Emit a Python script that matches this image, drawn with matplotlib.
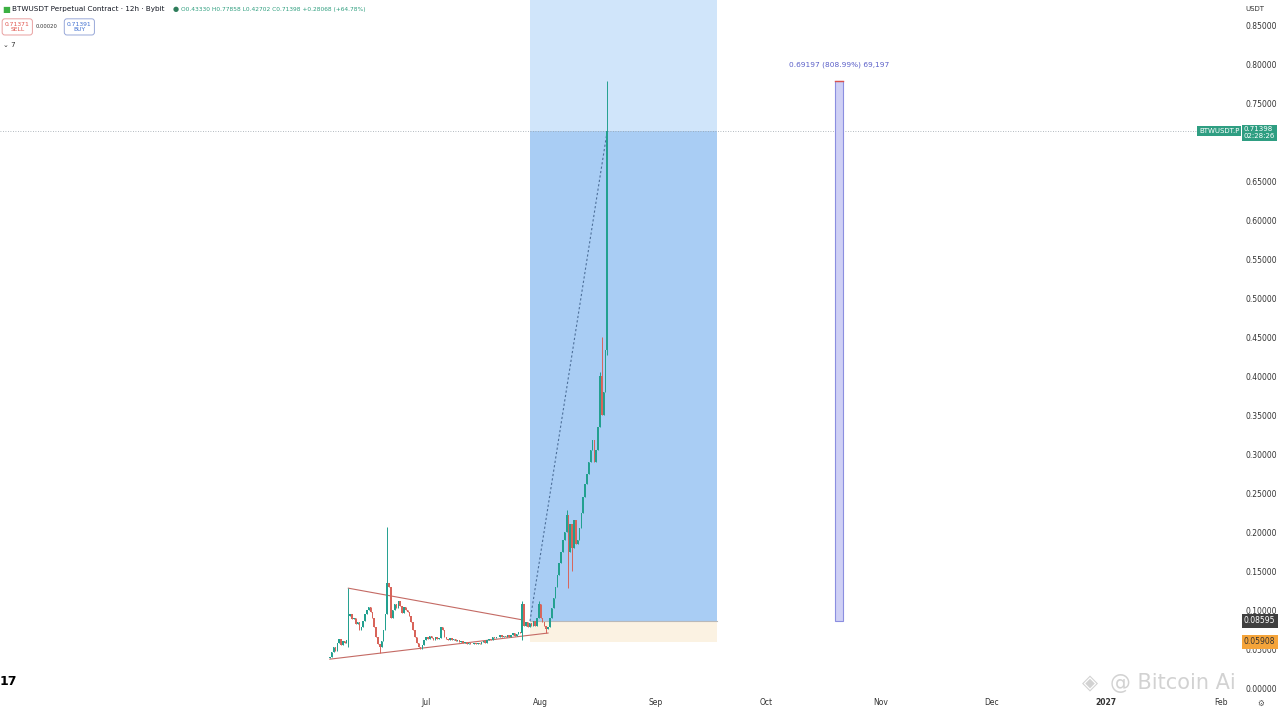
import datetime as dt
import numpy as np
import matplotlib
matplotlib.use("Agg")
import matplotlib.pyplot as plt
import matplotlib.dates as mdates
import matplotlib.transforms as mtransforms
from matplotlib.patches import Rectangle

# 12h candles of BTWUSDT starting 2026-06-05
start = dt.datetime(2026, 6, 5)
closes = [
    0.040, 0.046, 0.052, 0.048, 0.058, 0.063, 0.055, 0.060, 0.058, 0.062,
    0.092, 0.095, 0.088, 0.090, 0.082, 0.085, 0.074, 0.078, 0.086, 0.095,
    0.100, 0.104, 0.098, 0.090, 0.078, 0.065, 0.056, 0.052, 0.060, 0.075,
    0.095, 0.135, 0.130, 0.090, 0.100, 0.108, 0.102, 0.112, 0.105, 0.096,
    0.104, 0.100, 0.098, 0.092, 0.085, 0.075, 0.066, 0.058, 0.053, 0.050,
    0.055, 0.062, 0.066, 0.063, 0.067, 0.064, 0.062, 0.065, 0.063, 0.064,
    0.078, 0.074, 0.066, 0.063, 0.061, 0.064, 0.062, 0.063, 0.060, 0.061,
    0.059, 0.060, 0.058, 0.059, 0.057, 0.058, 0.056, 0.057, 0.058, 0.056,
    0.058, 0.057, 0.059, 0.060, 0.058, 0.061, 0.063, 0.062, 0.065, 0.064,
    0.066, 0.065, 0.068, 0.066, 0.067, 0.065, 0.068, 0.066, 0.068, 0.070,
    0.067, 0.069, 0.072, 0.070, 0.108, 0.080, 0.085, 0.078, 0.083, 0.080,
    0.086, 0.080, 0.090, 0.108, 0.090, 0.085, 0.080, 0.076, 0.078, 0.090,
    0.102, 0.115, 0.130, 0.145, 0.160, 0.175, 0.190, 0.200, 0.222, 0.175,
    0.210, 0.180, 0.215, 0.185, 0.190, 0.205, 0.225, 0.245, 0.262, 0.275,
    0.290, 0.305, 0.318, 0.290, 0.305, 0.335, 0.400, 0.350, 0.380, 0.4333,
    0.71398,
]
first_open = 0.038
high_wicks = {10: 0.128, 31: 0.207, 104: 0.112, 113: 0.112, 128: 0.228,
              146: 0.405, 147: 0.450, 150: 0.77858}
low_wicks = {10: 0.052, 27: 0.045, 104: 0.062, 117: 0.070, 129: 0.128,
             131: 0.150, 150: 0.42702}

# position tool / drawings
entry_price = 0.08595
stop_price = 0.05908
last_price = 0.71398
pos_start = dt.datetime(2026, 7, 29, 3)
pos_end = dt.datetime(2026, 9, 17, 16)
measure_start = dt.datetime(2026, 10, 19, 14)
measure_end = dt.datetime(2026, 10, 21, 18)
measure_top = 0.77792
upper_trend = [(dt.datetime(2026, 6, 10), 0.128), (dt.datetime(2026, 7, 27, 12), 0.087)]
lower_trend = [(dt.datetime(2026, 6, 5), 0.037), (dt.datetime(2026, 8, 3), 0.0705)]

price_ticks = [0.85, 0.80, 0.75, 0.65, 0.60, 0.55, 0.50, 0.45, 0.40, 0.35,
               0.30, 0.25, 0.20, 0.15, 0.10, 0.05, 0.00]
month_ticks = [dt.datetime(2026, 7, 1), dt.datetime(2026, 8, 1), dt.datetime(2026, 9, 1),
               dt.datetime(2026, 10, 1), dt.datetime(2026, 11, 1), dt.datetime(2026, 12, 1),
               dt.datetime(2027, 1, 1), dt.datetime(2027, 2, 1)]
month_labels = ["Jul", "Aug", "Sep", "Oct", "Nov", "Dec", "2027", "Feb"]

GREEN = "#22a08f"
RED = "#d8645a"

fig = plt.figure(figsize=(12.8, 7.08), dpi=100)
ax = fig.add_axes([0, 16 / 708, 1240 / 1280, 692 / 708])

jul1 = mdates.date2num(dt.datetime(2026, 7, 1))
px_day = 3.698
ax.set_xlim(jul1 - 426 / px_day, jul1 + (1240 - 426) / px_day)
ax.set_ylim(-0.0051, 0.8821)

# long position tool
x0 = mdates.date2num(pos_start)
x1 = mdates.date2num(pos_end)
ax.add_patch(Rectangle((x0, last_price), x1 - x0, 1.0 - last_price, color="#d0e5fa", lw=0, zorder=1))
ax.add_patch(Rectangle((x0, entry_price), x1 - x0, last_price - entry_price, color="#a9cdf4", lw=0, zorder=1))
ax.add_patch(Rectangle((x0, stop_price), x1 - x0, entry_price - stop_price, color="#fbf2e2", lw=0, zorder=1))
ax.plot([x0, x1], [entry_price, entry_price], color="#b9b9b9", lw=0.8, zorder=2)

# candles
times = [mdates.date2num(start + dt.timedelta(hours=12 * i)) for i in range(len(closes))]
opens = [first_open] + closes[:-1]
for i, (t, o, c) in enumerate(zip(times, opens, closes)):
    col = GREEN if c >= o else RED
    hi = high_wicks.get(i, max(o, c))
    lo = low_wicks.get(i, min(o, c))
    ax.vlines(t, lo, hi, color=col, lw=0.7, zorder=4)
    ax.bar(t, abs(c - o) if abs(c - o) > 0.0008 else 0.0008, bottom=min(o, c),
           width=0.4, color=col, lw=0, zorder=4)

# triangle
for pts in (upper_trend, lower_trend):
    ax.plot([mdates.date2num(p[0]) for p in pts], [p[1] for p in pts],
            color="#c46a64", lw=0.8, zorder=3)

# dashed line entry -> current price
ax.plot([x0, times[-1]], [entry_price, last_price], color="#4d6f99",
        lw=0.8, ls=(0, (2, 2)), zorder=3)

# current price line
ax.axhline(last_price, color="#9aa3ab", lw=0.6, ls=(0, (1, 2)), zorder=2)

# measure rectangle
m0 = mdates.date2num(measure_start)
m1 = mdates.date2num(measure_end)
ax.add_patch(Rectangle((m0, entry_price), m1 - m0, measure_top - entry_price,
                       facecolor="#cfd0f5", edgecolor="#8b8ee0", lw=0.8, zorder=3))
ax.plot([m0, m1], [measure_top, measure_top], color="#d9534f", lw=1.0, zorder=4)
ax.text((m0 + m1) / 2, 0.795, "0.69197 (808.99%) 69,197", color="#5a5fc8",
        fontsize=5.3, ha="center", va="bottom", zorder=5)

# axes styling
for s in ax.spines.values():
    s.set_visible(False)
ax.yaxis.tick_right()
ax.set_yticks(price_ticks)
ax.set_yticklabels(["%.5f" % v for v in price_ticks], fontsize=5.5, color="#333333")
ax.tick_params(axis="y", length=0, pad=4)
ax.set_xticks([mdates.date2num(d) for d in month_ticks])
ax.set_xticklabels(month_labels, fontsize=5.5, color="#333333")
ax.get_xticklabels()[6].set_fontweight("bold")
ax.tick_params(axis="x", length=0, pad=4)

# right-hand price labels
tr = mtransforms.blended_transform_factory(fig.transFigure, ax.transData)
ax.text(1199 / 1280, last_price, "BTWUSDT.P", transform=tr, fontsize=5, color="white",
        va="center", ha="left", zorder=6,
        bbox=dict(boxstyle="square,pad=0.25", fc="#2f9e82", ec="none"))
ax.text(1244 / 1280, last_price + 0.006, "0.71398\n02:28:26", transform=tr, fontsize=5,
        color="white", va="top", ha="left", zorder=6, linespacing=1.1,
        bbox=dict(boxstyle="square,pad=0.25", fc="#2f9e82", ec="none"),
        clip_on=False)
ax.text(1244 / 1280, entry_price, "0.08595", transform=tr, fontsize=5.5, color="white",
        va="center", ha="left", zorder=6, clip_on=False,
        bbox=dict(boxstyle="square,pad=0.3", fc="#3f3f3f", ec="none"))
ax.text(1244 / 1280, stop_price, "0.05908", transform=tr, fontsize=5.5, color="#333333",
        va="center", ha="left", zorder=6, clip_on=False,
        bbox=dict(boxstyle="square,pad=0.3", fc="#f5a43a", ec="none"))

# header
fig.text(0.002, 0.987, "\u25a0", color="#3cb043", fontsize=6, va="center")
fig.text(0.009, 0.987, "BTWUSDT Perpetual Contract \u00b7 12h \u00b7 Bybit", color="#131722",
         fontsize=5.2, va="center")
fig.text(0.1345, 0.987, "\u25cf", color="#2e7d5b", fontsize=5, va="center")
fig.text(0.1415, 0.987, "O0.43330 H0.77858 L0.42702 C0.71398 +0.28068 (+64.78%)",
         color="#2e9e7e", fontsize=4.2, va="center")
fig.text(0.0135, 0.962, "0.71371\nSELL", color="#e0524a", fontsize=4.3, ha="center",
         va="center", linespacing=1.2,
         bbox=dict(boxstyle="round,pad=0.45", fc="white", ec="#e8a0a0", lw=0.7))
fig.text(0.0365, 0.962, "0.00020", color="#333333", fontsize=3.8, ha="center", va="center")
fig.text(0.062, 0.962, "0.71391\nBUY", color="#3f6fd0", fontsize=4.3, ha="center",
         va="center", linespacing=1.2,
         bbox=dict(boxstyle="round,pad=0.45", fc="white", ec="#98a8d8", lw=0.7))
fig.text(0.002, 0.937, "\u2304 7", color="#333333", fontsize=5, va="center")
fig.text(1245 / 1280, 0.987, "USDT", color="#333333", fontsize=5, va="center")

# bottom decorations
fig.text(0.0, 0.037, "17", color="#000000", fontsize=9, fontweight="heavy", va="center")
fig.text(1082 / 1280, 0.035, "\u25c8", color="#d2d2d2", fontsize=15, va="center")
fig.text(1110 / 1280, 0.035, "@ Bitcoin Ai", color="#d2d2d2", fontsize=15, va="center")
fig.text(1261 / 1280, 0.006, "\u2699", color="#555555", fontsize=5.5, ha="center", va="center")

fig.savefig("out.png", dpi=100)
